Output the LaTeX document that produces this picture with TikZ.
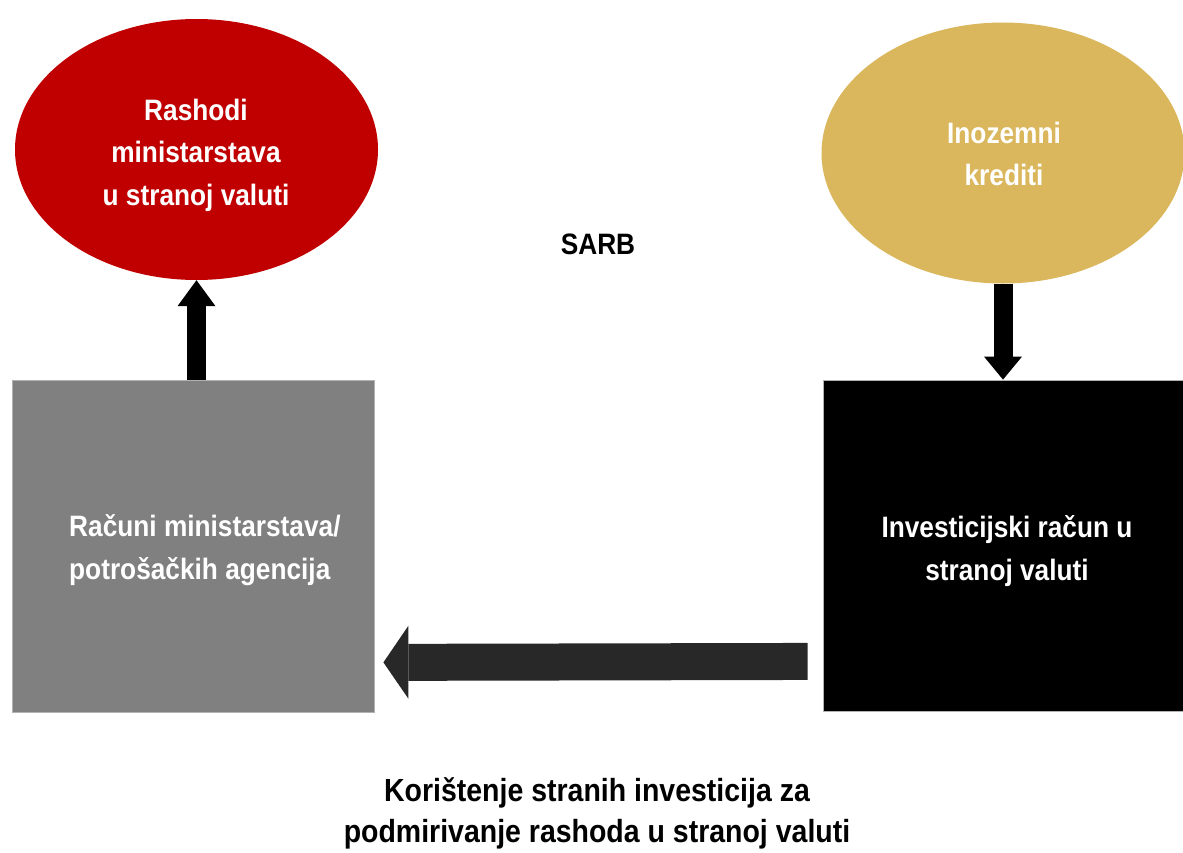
\documentclass[tikz,border=0pt]{standalone}
\usepackage{fontspec}
\newfontfamily\diagfont{Liberation Sans}[FakeStretch=0.89]
\usetikzlibrary{shapes.geometric,arrows.meta}
\definecolor{rashodred}{HTML}{C00000}
\definecolor{kreditgold}{HTML}{DAB75C}
\definecolor{racungray}{HTML}{808080}
\definecolor{strelica}{HTML}{282828}
\begin{document}
\begin{tikzpicture}[x=1pt, y=-1pt,
  txt/.style={font=\diagfont\bfseries\fontsize{29.5}{42.5}\selectfont, align=center, inner sep=0pt},
  ell/.style={ellipse, minimum width=363pt, minimum height=261pt, txt, text=white},
  box/.style={rectangle, minimum width=362pt, minimum height=332pt, draw=black!30, line width=0.8pt, txt, text=white}]
\useasboundingbox (0,0) rectangle (1183,852);
\node[ell, fill=rashodred] (rsh) at (196.5,149.5) {};
\node[txt, text=white] (rshTxt) at (196,155) {Rashodi\\ministarstava\\u stranoj valuti};
\node[ell, fill=kreditgold] (inz) at (1003,153) {};
\node[txt, text=white] (inzTxt) at (1004,154) {Inozemni\\krediti};
\node[box, fill=racungray] (acc) at (193,546) {};
\node[txt, text=white, align=left, anchor=west] (accTxt) at (69,550) {Računi ministarstava/\\potrošačkih agencija};
\node[box, fill=black, minimum width=360pt, minimum height=331pt] (inv) at (1003,545.5) {};
\node[txt, text=white] (invTxt) at (1007,551) {Investicijski račun u\\stranoj valuti};
\node[txt] (sarb) at (598,244) {SARB};
\node[txt, font=\diagfont\bfseries\fontsize{32}{41}\selectfont] (opis) at (597,813) {Korištenje stranih investicija za\\podmirivanje rashoda u stranoj valuti};
\draw[line width=19pt, -{Triangle[width=38pt, length=26pt, line width=0pt]}] (rsh.south |- acc.north) -- (rsh.south);
\draw[line width=19pt, -{Triangle[width=38pt, length=23pt, line width=0pt]}] (inz.south) -- (inv.north);
\draw[strelica, line width=37pt, shorten <=15pt, shorten >=9pt, -{Triangle[width=73pt, length=25pt, line width=0pt]}] ([yshift=50pt]inv.south west) -- ([yshift=50pt]acc.south east);
\end{tikzpicture}
\end{document}
